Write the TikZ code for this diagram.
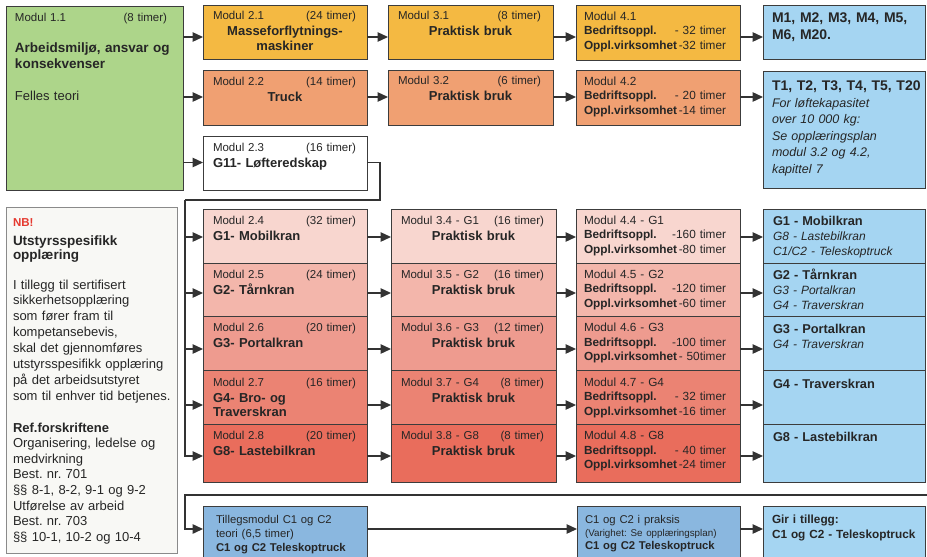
\documentclass[tikz,border=0pt]{standalone}
\usepackage{fontspec}
\setmainfont{Liberation Sans}
\usetikzlibrary{arrows.meta}
\frenchspacing
\definecolor{bordc}{HTML}{3C3C3C}
\definecolor{arrc}{HTML}{333333}
\definecolor{txtc}{HTML}{262626}
\definecolor{grn}{HTML}{ADD58A}
\definecolor{yel}{HTML}{F4B942}
\definecolor{sal}{HTML}{F0A072}
\definecolor{lblue}{HTML}{A5D5F2}
\definecolor{mblue}{HTML}{8AB7DF}
\definecolor{pA}{HTML}{F8D6CF}
\definecolor{pB}{HTML}{F3B6AB}
\definecolor{pC}{HTML}{EE9B8F}
\definecolor{pD}{HTML}{EB8373}
\definecolor{pE}{HTML}{E96D5C}
\definecolor{nbbg}{HTML}{F8F8F5}
\definecolor{nbbord}{HTML}{8A8A8A}
\definecolor{nbred}{HTML}{E5392F}
\newcommand\fsz[2]{\fontsize{#1}{#2}\selectfont}
\newcommand\mkbox[6]{\node[boxbase,fill=#6,minimum width={(#4)-(#2)},minimum height={(#5)-(#3)}] (#1) at (#2,#3) {};}
\begin{document}
\frenchspacing
\begin{tikzpicture}[x=1pt,y=-1pt,
  boxbase/.style={draw=bordc,line width=0.9pt,anchor=north west,inner sep=0pt,outer sep=0pt},
  tx/.style={inner sep=0pt,outer sep=0pt,anchor=base west,align=left,text=txtc},
  txc/.style={inner sep=0pt,outer sep=0pt,anchor=base,align=center,text=txtc},
  hd/.style={tx,text width=143pt,font={\fsz{11.5}{14}}},
  ttl/.style={txc,text width=160pt,font={\fsz{13}{14.5}\bfseries}},
  ttll/.style={tx,text width=150pt,font={\fsz{13}{14.5}\bfseries}},
  four/.style={tx,text width=142pt,font={\fsz{11.8}{14.5}}},
  blu/.style={tx,text width=152pt,font={\fsz{12}{15}\itshape}},
  arr/.style={draw=arrc,line width=1.3pt,-{Triangle[length=10.5pt,width=9.5pt]}},
  ln/.style={draw=arrc,line width=1.3pt}]
\fill[white] (0,0) rectangle (927,557);
\begin{scope}
\clip (0,0) rectangle (927,557);
% levels
\coordinate (L1) at (0,37);
\coordinate (L2) at (0,97);
\coordinate (L3) at (0,162.5);
\coordinate (R1) at (0,237);
\coordinate (R2) at (0,293);
\coordinate (R3) at (0,349);
\coordinate (R4) at (0,405);
\coordinate (R5) at (0,456);
\coordinate (LB) at (0,529);
% green
\mkbox{g}{6}{6}{183}{190}{grn}
\node[tx,text width=152pt,font={\fsz{11.5}{14}}] (gt1) at (15,21.7) {Modul 1.1\hfill(8 timer)};
\node[tx,text width=166pt,font={\fsz{13.5}{15.5}\bfseries}] (gt2) at (15,52.7) {Arbeidsmiljø, ansvar og\\konsekvenser};
\node[tx,text width=160pt,font={\fsz{13}{15}}] (gt3) at (15,100.7) {Felles teori};
% column 2 top
\mkbox{m21}{203}{5}{367}{59}{yel}
\node[hd] (m21h) at (213,19.5) {Modul 2.1\hfill(24 timer)};
\node[ttl] (m21t) at (285,35.5) {Masseforflytnings-\\maskiner};
\mkbox{m22}{203}{70}{367}{125}{sal}
\node[hd] (m22h) at (213,85) {Modul 2.2\hfill(14 timer)};
\node[ttl] (m22t) at (285,101) {Truck};
\mkbox{m23}{203}{136}{367}{190}{white}
\node[hd] (m23h) at (213,151.7) {Modul 2.3\hfill(16 timer)};
\node[ttll] (m23t) at (213,167) {G11- Løfteredskap};
% column 3 top
\mkbox{m31}{388}{5}{553}{59}{yel}
\node[hd] (m31h) at (398,19.5) {Modul 3.1\hfill(8 timer)};
\node[ttl] (m31t) at (470.5,35) {Praktisk bruk};
\mkbox{m32}{388}{70}{553}{125}{sal}
\node[hd] (m32h) at (398,84.5) {Modul 3.2\hfill(6 timer)};
\node[ttl] (m32t) at (470.5,100.5) {Praktisk bruk};
% column 4 top
\mkbox{m41}{576}{5}{740}{60}{yel}
\node[four] (m41t) at (584,20) {Modul 4.1\\\textbf{Bedriftsoppl.}\hfill- 32 timer\\\textbf{Oppl.virksomhet}\hfill-32 timer};
\mkbox{m42}{576}{70}{740}{125}{sal}
\node[four] (m42t) at (584,85) {Modul 4.2\\\textbf{Bedriftsoppl.}\hfill- 20 timer\\\textbf{Oppl.virksomhet}\hfill-14 timer};
% blue top
\mkbox{bM}{763}{5}{925}{59}{lblue}
\node[tx,text width=152pt,font={\fsz{14}{16.7}\bfseries}] (bMt) at (772,22.7) {M1, M2, M3, M4, M5,\\M6, M20.};
\mkbox{bT}{763}{71}{925}{188}{lblue}
\node[tx,text width=152pt,font={\fsz{14}{16}\bfseries}] (bTt) at (772,90) {T1, T2, T3, T4, T5, T20};
\node[tx,text width=152pt,font={\fsz{12.5}{16.5}\itshape}] (bTi) at (772,107) {For løftekapasitet\\over 10 000 kg:\\Se opplæringsplan\\modul 3.2 og 4.2,\\kapittel 7};
% NB box
\node[boxbase,draw=nbbord,fill=nbbg,minimum width=171pt,minimum height=346pt] (nb) at (6,207) {};
\node[tx,text=nbred,font={\fsz{11.5}{14}\bfseries}] (nb1) at (13,226) {NB!};
\node[tx,text width=165pt,font={\fsz{13.5}{14.5}\bfseries}] (nb2) at (13,245) {Utstyrsspesifikk\\opplæring};
\node[tx,text width=166pt,font={\fsz{13}{15.9}}] (nb3) at (13,289) {I tillegg til sertifisert\\sikkerhetsopplæring\\som fører fram til\\kompetansebevis,\\skal det gjennomføres\\utstyrsspesifikk opplæring\\på det arbeidsutstyret\\som til enhver tid betjenes.};
\node[tx,text width=166pt,font={\fsz{13}{15.6}}] (nb4) at (13,432) {\textbf{Ref.forskriftene}\\Organisering, ledelse og\\medvirkning\\Best. nr. 701\\§§ 8-1, 8-2, 9-1 og 9-2\\Utførelse av arbeid\\Best. nr. 703\\§§ 10-1, 10-2 og 10-4};
% stacked column 2
\mkbox{a1}{203}{209}{367}{263}{pA}
\mkbox{a2}{203}{263}{367}{316}{pB}
\mkbox{a3}{203}{316}{367}{370}{pC}
\mkbox{a4}{203}{370}{367}{424}{pD}
\mkbox{a5}{203}{424}{367}{482}{pE}
\node[hd] (a1h) at (213,224.5) {Modul 2.4\hfill(32 timer)};
\node[ttll] (a1t) at (213,240.5) {G1- Mobilkran};
\node[hd] (a2h) at (213,278.5) {Modul 2.5\hfill(24 timer)};
\node[ttll] (a2t) at (213,294.5) {G2- Tårnkran};
\node[hd] (a3h) at (213,331.5) {Modul 2.6\hfill(20 timer)};
\node[ttll] (a3t) at (213,347.5) {G3- Portalkran};
\node[hd] (a4h) at (213,386) {Modul 2.7\hfill(16 timer)};
\node[ttll] (a4t) at (213,402) {G4- Bro- og\\Traverskran};
\node[hd] (a5h) at (213,439.5) {Modul 2.8\hfill(20 timer)};
\node[ttll] (a5t) at (213,455.5) {G8- Lastebilkran};
% stacked column 3
\mkbox{b1}{391}{209}{556}{263}{pA}
\mkbox{b2}{391}{263}{556}{316}{pB}
\mkbox{b3}{391}{316}{556}{370}{pC}
\mkbox{b4}{391}{370}{556}{424}{pD}
\mkbox{b5}{391}{424}{556}{482}{pE}
\node[hd] (b1h) at (401,224.5) {Modul 3.4 - G1\hfill(16 timer)};
\node[ttl] (b1t) at (473.5,240.5) {Praktisk bruk};
\node[hd] (b2h) at (401,278.5) {Modul 3.5 - G2\hfill(16 timer)};
\node[ttl] (b2t) at (473.5,294.5) {Praktisk bruk};
\node[hd] (b3h) at (401,331.5) {Modul 3.6 - G3\hfill(12 timer)};
\node[ttl] (b3t) at (473.5,347.5) {Praktisk bruk};
\node[hd] (b4h) at (401,386) {Modul 3.7 - G4\hfill(8 timer)};
\node[ttl] (b4t) at (473.5,402) {Praktisk bruk};
\node[hd] (b5h) at (401,439.5) {Modul 3.8 - G8\hfill(8 timer)};
\node[ttl] (b5t) at (473.5,455.5) {Praktisk bruk};
% stacked column 4
\mkbox{c1}{576}{209}{740}{263}{pA}
\mkbox{c2}{576}{263}{740}{316}{pB}
\mkbox{c3}{576}{316}{740}{370}{pC}
\mkbox{c4}{576}{370}{740}{424}{pD}
\mkbox{c5}{576}{424}{740}{482}{pE}
\node[four] (c1t) at (584,224) {Modul 4.4 - G1\\\textbf{Bedriftsoppl.}\hfill-160 timer\\\textbf{Oppl.virksomhet}\hfill-80 timer};
\node[four] (c2t) at (584,278) {Modul 4.5 - G2\\\textbf{Bedriftsoppl.}\hfill-120 timer\\\textbf{Oppl.virksomhet}\hfill-60 timer};
\node[four] (c3t) at (584,331.5) {Modul 4.6 - G3\\\textbf{Bedriftsoppl.}\hfill-100 timer\\\textbf{Oppl.virksomhet}\hfill- 50timer};
\node[four] (c4t) at (584,386) {Modul 4.7 - G4\\\textbf{Bedriftsoppl.}\hfill- 32 timer\\\textbf{Oppl.virksomhet}\hfill-16 timer};
\node[four] (c5t) at (584,439.5) {Modul 4.8 - G8\\\textbf{Bedriftsoppl.}\hfill- 40 timer\\\textbf{Oppl.virksomhet}\hfill-24 timer};
% stacked blue column
\mkbox{d1}{763}{209}{925}{263}{lblue}
\mkbox{d2}{763}{263}{925}{316}{lblue}
\mkbox{d3}{763}{316}{925}{370}{lblue}
\mkbox{d4}{763}{370}{925}{424}{lblue}
\mkbox{d5}{763}{424}{925}{482}{lblue}
\node[blu] (d1t) at (773,225.5) {{\fsz{12.8}{15}\bfseries\upshape G1 - Mobilkran}\\G8 - Lastebilkran\\C1/C2 - Teleskoptruck};
\node[blu] (d2t) at (773,279) {{\fsz{12.8}{15}\bfseries\upshape G2 - Tårnkran}\\G3 - Portalkran\\G4 - Traverskran};
\node[blu] (d3t) at (773,333.5) {{\fsz{12.8}{15}\bfseries\upshape G3 - Portalkran}\\G4 - Traverskran};
\node[blu] (d4t) at (773,388) {{\fsz{12.8}{15}\bfseries\upshape G4 - Traverskran}};
\node[blu] (d5t) at (773,441.5) {{\fsz{12.8}{15}\bfseries\upshape G8 - Lastebilkran}};
% bottom row
\mkbox{t1}{203}{506}{367}{570}{mblue}
\mkbox{t2}{577}{506}{740}{570}{mblue}
\mkbox{t3}{763}{506}{925}{570}{lblue}
\node[tx,text width=150pt,font={\fsz{11.3}{14}}] (t1t) at (216,523) {Tillegsmodul C1 og C2\\teori (6,5 timer)\\\textbf{C1 og C2 Teleskoptruck}};
\node[tx,text width=150pt,font={\fsz{11.3}{13}}] (t2t) at (585,523) {C1 og C2 i praksis\\{\fsz{9.8}{13}(Varighet: Se opplæringsplan)}\\\textbf{C1 og C2 Teleskoptruck}};
\node[tx,text width=150pt,font={\fsz{11.8}{15}\bfseries}] (t3t) at (772,523) {Gir i tillegg:\\C1 og C2 - Teleskoptruck};
% connectors top
\draw[arr] (g.east |- L1) -- (m21.west |- L1);
\draw[arr] (m21.east |- L1) -- (m31.west |- L1);
\draw[arr] (m31.east |- L1) -- (m41.west |- L1);
\draw[arr] (m41.east |- L1) -- (bM.west |- L1);
\draw[arr] (g.east |- L2) -- (m22.west |- L2);
\draw[arr] (m22.east |- L2) -- (m32.west |- L2);
\draw[arr] (m32.east |- L2) -- (m42.west |- L2);
\draw[arr] (m42.east |- L2) -- (bT.west |- L2);
\draw[arr] (g.east |- L3) -- (m23.west |- L3);
% feeder
\coordinate (fA) at (380,200);
\coordinate (fB) at (185,200);
\draw[ln] (m23.east |- L3) -| (fA) -- (fB);
\draw[arr] (fB) |- (a5.west |- R5);
\draw[arr] (fB |- R1) -- (a1.west |- R1);
\draw[arr] (fB |- R2) -- (a2.west |- R2);
\draw[arr] (fB |- R3) -- (a3.west |- R3);
\draw[arr] (fB |- R4) -- (a4.west |- R4);
% row arrows
\draw[arr] (a1.east |- R1) -- (b1.west |- R1);
\draw[arr] (b1.east |- R1) -- (c1.west |- R1);
\draw[arr] (c1.east |- R1) -- (d1.west |- R1);
\draw[arr] (a2.east |- R2) -- (b2.west |- R2);
\draw[arr] (b2.east |- R2) -- (c2.west |- R2);
\draw[arr] (c2.east |- R2) -- (d2.west |- R2);
\draw[arr] (a3.east |- R3) -- (b3.west |- R3);
\draw[arr] (b3.east |- R3) -- (c3.west |- R3);
\draw[arr] (c3.east |- R3) -- (d3.west |- R3);
\draw[arr] (a4.east |- R4) -- (b4.west |- R4);
\draw[arr] (b4.east |- R4) -- (c4.west |- R4);
\draw[arr] (c4.east |- R4) -- (d4.west |- R4);
\draw[arr] (a5.east |- R5) -- (b5.west |- R5);
\draw[arr] (b5.east |- R5) -- (c5.west |- R5);
\draw[arr] (c5.east |- R5) -- (d5.west |- R5);
% separator and bottom
\coordinate (sR) at (927,495);
\coordinate (sL) at (185,495);
\draw[arr,line width=1.5pt] (sR) -- (sL) |- (t1.west |- LB);
\draw[arr] (t1.east |- LB) -- (t2.west |- LB);
\draw[arr] (t2.east |- LB) -- (t3.west |- LB);
\end{scope}
\pgfresetboundingbox
\path[use as bounding box] (0,0) rectangle (927,557);
\end{tikzpicture}
\end{document}
